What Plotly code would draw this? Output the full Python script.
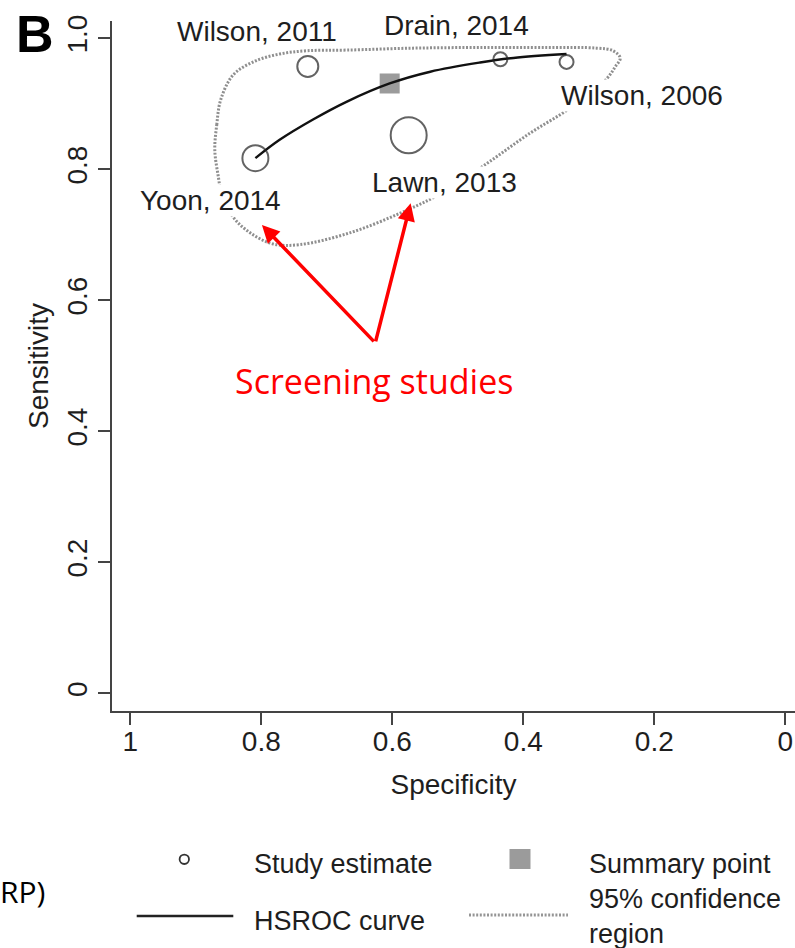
import plotly.graph_objects as go

# ---------------- data ----------------
studies = ["Wilson, 2011", "Drain, 2014", "Wilson, 2006", "Lawn, 2013", "Yoon, 2014"]
study_spec = [0.729, 0.435, 0.334, 0.575, 0.809]
study_sens = [0.957, 0.968, 0.964, 0.852, 0.817]
study_weight = [21, 14, 14, 36, 26]          # marker diameter ~ study weight

summary_spec = [0.604]
summary_sens = [0.931]

hsroc_spec = [0.809, 0.772, 0.721, 0.670, 0.604, 0.542, 0.466, 0.415, 0.334]
hsroc_sens = [0.817, 0.845, 0.876, 0.903, 0.931, 0.949, 0.963, 0.970, 0.976]

region_spec = [0.871, 0.868, 0.862, 0.843, 0.810, 0.772, 0.730, 0.669, 0.568,
               0.466, 0.364, 0.288, 0.263, 0.252, 0.260, 0.272, 0.298, 0.332,
               0.390, 0.454, 0.524, 0.588, 0.665, 0.741, 0.782, 0.817, 0.843,
               0.860, 0.866, 0.871]
region_sens = [0.830, 0.868, 0.906, 0.944, 0.965, 0.976, 0.981, 0.982, 0.985,
               0.986, 0.986, 0.985, 0.981, 0.970, 0.956, 0.939, 0.917, 0.891,
               0.855, 0.810, 0.764, 0.733, 0.703, 0.685, 0.686, 0.703, 0.727,
               0.761, 0.791, 0.830]

label_spec = [0.807, 0.502, 0.219, 0.521, 0.878]
label_sens = [1.011, 1.020, 0.913, 0.780, 0.752]

x_tickvals = [1, 0.8, 0.6, 0.4, 0.2, 0]
x_ticktext = ["1", "0.8", "0.6", "0.4", "0.2", "0"]
y_tickvals = [0, 0.2, 0.4, 0.6, 0.8, 1.0]
y_ticktext = ["0", "0.2", "0.4", "0.6", "0.8", "1.0"]

arrow_tail = (0.626, 0.535)
arrow_heads_spec = [0.799, 0.572]
arrow_heads_sens = [0.715, 0.748]

legend_labels = ["Study estimate", "Summary point", "HSROC curve", "95% confidence<br>region"]

# ---------------- geometry ----------------
W, H = 795, 948
L, R, T, B = 112, 0, 21, 237
PW, PH = W - L - R, H - T - B


def px(x):
    return (x - L) / PW


def py(y):
    return (H - B - y) / PH


TXT = "#1e1e1e"
FONT = "Liberation Sans, Arial, sans-serif"
DOT = "2px,1.6px"

fig = go.Figure()

fig.add_trace(go.Scatter(
    x=region_spec, y=region_sens, mode="lines",
    line=dict(color="#8f8f8f", width=3, dash=DOT, shape="spline", smoothing=1.0),
    hoverinfo="skip", showlegend=False))

fig.add_trace(go.Scatter(
    x=summary_spec, y=summary_sens, mode="markers",
    marker=dict(symbol="square", size=20, color="#9b9b9b", line=dict(width=0)),
    showlegend=False))

fig.add_trace(go.Scatter(
    x=hsroc_spec, y=hsroc_sens, mode="lines",
    line=dict(color="#111111", width=2.4, shape="spline", smoothing=1.0),
    showlegend=False))

fig.add_trace(go.Scatter(
    x=study_spec, y=study_sens, mode="markers",
    marker=dict(symbol="circle", size=study_weight, color="rgba(0,0,0,0)",
                line=dict(color="#222222", width=2)),
    text=studies, showlegend=False))

annotations = []
for name, xs, ys in zip(studies, label_spec, label_sens):
    annotations.append(dict(x=xs, y=ys, xref="x", yref="y", text=name, showarrow=False,
                            xanchor="center", yanchor="middle", bgcolor="white", borderpad=0,
                            font=dict(family=FONT, size=28, color=TXT)))

for hx, hy in zip(arrow_heads_spec, arrow_heads_sens):
    annotations.append(dict(x=hx, y=hy, xref="x", yref="y", ax=arrow_tail[0], ay=arrow_tail[1],
                            axref="x", ayref="y", text="", showarrow=True, arrowhead=2,
                            arrowsize=1, arrowwidth=3.5, arrowcolor="#ff0000"))

annotations.append(dict(x=px(374), y=py(381), xref="paper", yref="paper", text="Screening studies",
                        showarrow=False, xanchor="center", yanchor="middle",
                        font=dict(family="Open Sans, sans-serif", size=34, color="#ff0000")))

annotations.append(dict(x=px(35), y=py(34), xref="paper", yref="paper", text="<b>B</b>",
                        showarrow=False, xanchor="center", yanchor="middle",
                        font=dict(family=FONT, size=52, color="#000000")))

annotations.append(dict(x=px(47), y=py(891), xref="paper", yref="paper", text="RP)",
                        showarrow=False, xanchor="right", yanchor="middle",
                        font=dict(family="Open Sans, sans-serif", size=30, color="#000000")))

# legend text
leg_pos = [(251.7, 864), (586.7, 864), (251.7, 921), (586.7, 916)]
for lab, (lx, ly) in zip(legend_labels, leg_pos):
    annotations.append(dict(x=px(lx), y=py(ly), xref="paper", yref="paper", text=lab,
                            showarrow=False, xanchor="left", yanchor="middle", align="left",
                            font=dict(family=FONT, size=27, color=TXT)))

shapes = [
    dict(type="circle", xref="paper", yref="paper", x0=px(179.6), x1=px(189.0),
         y0=py(864.0), y1=py(854.6), line=dict(color="#333333", width=1.8)),
    dict(type="rect", xref="paper", yref="paper", x0=px(509.5), x1=px(530.5),
         y0=py(869), y1=py(849), fillcolor="#9b9b9b", line=dict(width=0)),
    dict(type="line", xref="paper", yref="paper", x0=px(136.7), x1=px(233.3),
         y0=py(916), y1=py(916), line=dict(color="#222222", width=2.5)),
    dict(type="line", xref="paper", yref="paper", x0=px(469), x1=px(568),
         y0=py(915), y1=py(915), line=dict(color="#959595", width=3, dash=DOT)),
]

x_lo = 1 + (130.3 - L) / 655
x_hi = -(W - 785.3) / 655
y_lo = -(H - B - 693.3) / 655
y_hi = (693.3 - T) / 655

fig.update_layout(
    width=W, height=H, autosize=False,
    margin=dict(l=L, r=R, t=T, b=B, pad=0),
    paper_bgcolor="white", plot_bgcolor="white",
    font=dict(family=FONT, size=28, color=TXT),
    annotations=annotations, shapes=shapes,
    showlegend=False,
    xaxis=dict(range=[x_lo, x_hi], tickvals=x_tickvals, ticktext=x_ticktext,
               showline=True, linecolor="#444444", linewidth=1.5, ticks="outside",
               ticklen=12, tickwidth=1.5, tickcolor="#444444", showgrid=False,
               zeroline=False, tickfont=dict(size=28, color=TXT), ticklabelstandoff=-7,
               title=dict(text="Specificity", font=dict(size=28, color=TXT), standoff=18)),
    yaxis=dict(range=[y_lo, y_hi], tickvals=y_tickvals, ticktext=y_ticktext,
               showline=True, linecolor="#444444", linewidth=1.5, ticks="outside",
               ticklen=12, tickwidth=1.5, tickcolor="#444444", showgrid=False,
               zeroline=False, tickangle=-90, tickfont=dict(size=28, color=TXT),
               title=dict(text="Sensitivity", font=dict(size=28, color=TXT), standoff=5)),
)

fig.write_html("out.html")
